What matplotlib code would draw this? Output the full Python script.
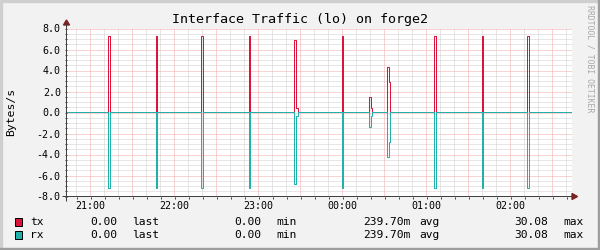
import numpy as np
import matplotlib
matplotlib.use("Agg")
import matplotlib.pyplot as plt
from matplotlib.lines import Line2D
from matplotlib.patches import Rectangle, Polygon
from matplotlib.transforms import IdentityTransform

# time in minutes after 21:00, values in Bytes/s
tx_start = [12.857, 47.143, 79.286, 113.571, 145.714, 147.143, 180.0, 199.286, 200.714, 212.143, 213.571, 245.714, 280.0, 312.143]
tx_end = [14.286, 47.857, 80.714, 114.286, 147.143, 148.571, 180.714, 200.714, 201.429, 213.571, 214.286, 247.143, 280.714, 313.571]
tx_value = [7.24, 7.24, 7.24, 7.24, 6.86, 0.38, 7.24, 1.43, 0.38, 4.29, 2.86, 7.24, 7.24, 7.24]
rx_value = [7.24, 7.24, 7.24, 7.24, 6.86, 0.38, 7.24, 1.43, 0.38, 4.29, 2.86, 7.24, 7.24, 7.24]

hour_ticks = [0, 60, 120, 180, 240, 300]
hour_labels = ["21:00", "22:00", "23:00", "00:00", "01:00", "02:00"]
y_ticks = [-8.0, -6.0, -4.0, -2.0, 0.0, 2.0, 4.0, 6.0, 8.0]

series_names = ["tx", "rx"]
series_colors = ["#DC143C", "#20B2AA"]
stat_last = ["0.00", "0.00"]
stat_min = ["0.00", "0.00"]
stat_avg = ["239.70m", "239.70m"]
stat_max = ["30.08", "30.08"]

MONO = "DejaVu Sans Mono"
AXIS_COL = "#404040"
ARROW_COL = "#7F1F1F"
MGRID = "#F5A8A8"
GRID = "#CFCFCF"

W, H = 600, 250
xmin = -(90.5 - 67) / 1.4
xmax = xmin + 505 / 1.4


def steps(starts, ends, values):
    xs = [xmin]
    ys = [0.0]
    n = len(starts)
    for i in range(n):
        xs.append(starts[i])
        ys.append(values[i])
        if i + 1 < n and abs(starts[i + 1] - ends[i]) < 1e-6:
            continue
        xs.append(ends[i])
        ys.append(0.0)
    xs.append(xmax)
    ys.append(0.0)
    return np.array(xs), np.array(ys)


fig = plt.figure(figsize=(6, 2.5), dpi=100, facecolor="#F2F2F2")
ax = fig.add_axes([67 / W, 53.5 / H, 505 / W, 168 / H])
ax.set_facecolor("white")
ax.set_xlim(xmin, xmax)
ax.set_ylim(-8, 8)

# grid: red every 30 min / 2.0, gray every 10 min / 0.5
for m in np.arange(-10, 344, 10):
    if m < xmin:
        continue
    if m % 30 == 0:
        ax.axvline(m, color=MGRID, lw=0.72, ls=(0, (1, 1)), snap=False, zorder=1)
    else:
        ax.axvline(m, color=GRID, lw=0.72, ls=(0, (1, 1)), snap=False, zorder=0.5)
for v in np.arange(-8, 8.01, 0.5):
    if abs(v % 2) < 1e-6:
        ax.axhline(v, color=MGRID, lw=0.72, ls=(0, (1, 1)), snap=True, zorder=1)
    else:
        ax.axhline(v, color=GRID, lw=0.72, ls=(0, (1, 1)), snap=True, zorder=0.5)

tx_x, tx_y = steps(tx_start, tx_end, tx_value)
rx_x, rx_y = steps(tx_start, tx_end, rx_value)
ax.step(tx_x, tx_y, where="post", color=series_colors[0], lw=0.72, snap=False, zorder=3)
ax.step(rx_x, -rx_y, where="post", color=series_colors[1], lw=0.72, snap=False, zorder=4)

for s in ax.spines.values():
    s.set_visible(False)

ax.set_xticks(hour_ticks)
ax.set_xticklabels(hour_labels, fontfamily=MONO, fontsize=7.2)
ax.set_yticks(y_ticks)
ax.set_yticklabels(["%.1f" % v for v in y_ticks], fontfamily=MONO, fontsize=7.2)
ax.set_xticks(np.arange(-10, 344, 10), minor=True)
ax.set_yticks(np.arange(-8, 8.01, 0.5), minor=True)
ax.tick_params(axis="both", which="both", direction="out", length=1.5, width=0.72, color=AXIS_COL)
ax.tick_params(axis="x", which="major", pad=2.0)
ax.tick_params(axis="y", which="major", pad=3.0)

# axis lines with arrows (pixel coords)
tr = IdentityTransform()
fig.add_artist(Line2D([63, 573], [53.5, 53.5], color=AXIS_COL, lw=0.72, transform=tr, snap=False))
fig.add_artist(Line2D([66.5, 66.5], [49, 226], color=AXIS_COL, lw=0.72, transform=tr, snap=False))
fig.add_artist(Polygon([[572, 50.5], [577.5, 53.5], [572, 56.5]], closed=True,
                       color=ARROW_COL, transform=tr))
fig.add_artist(Polygon([[63.5, 225], [66.5, 230], [69.5, 225]], closed=True,
                       color=ARROW_COL, transform=tr))

# frame shading
fig.add_artist(Rectangle((0, 0), 2, H, color="#CFCFCF", transform=tr))
fig.add_artist(Rectangle((0, H - 2), W, 2, color="#CFCFCF", transform=tr))
fig.add_artist(Rectangle((W - 2, 0), 2, H, color="#9E9E9E", transform=tr))
fig.add_artist(Rectangle((0, 0), W, 2, color="#9E9E9E", transform=tr))

fig.text(300 / W, 1 - 19 / H, "Interface Traffic (lo) on forge2", ha="center", va="center",
         fontfamily=MONO, fontsize=9.6)
fig.text(11 / W, 1 - 112 / H, "Bytes/s", rotation=90, ha="center", va="center",
         fontfamily=MONO, fontsize=8.2)
fig.text(590 / W, 1 - 59 / H, "RRDTOOL / TOBI OETIKER", rotation=270, ha="center", va="center",
         fontfamily=MONO, fontsize=5.9, color="#A8A8A8")

# legend, each field placed at its pixel column
row_y = [222, 235]
for i in range(2):
    yc = (H - row_y[i]) / H
    fig.add_artist(Rectangle((15, H - row_y[i] - 4), 7, 8, facecolor=series_colors[i],
                             edgecolor="black", lw=0.72, transform=tr))
    fields = [
        (30, "left", series_names[i]),
        (117, "right", stat_last[i]),
        (132, "left", "last"),
        (261, "right", stat_min[i]),
        (276, "left", "min"),
        (363, "left", stat_avg[i]),
        (439, "right", "avg"),
        (548, "right", stat_max[i]),
        (563, "left", "max"),
    ]
    for px, ha, txt in fields:
        fig.text(px / W, yc, txt, ha=ha, va="center", fontfamily=MONO, fontsize=8.1)

fig.savefig("out.png", dpi=100, facecolor=fig.get_facecolor())
